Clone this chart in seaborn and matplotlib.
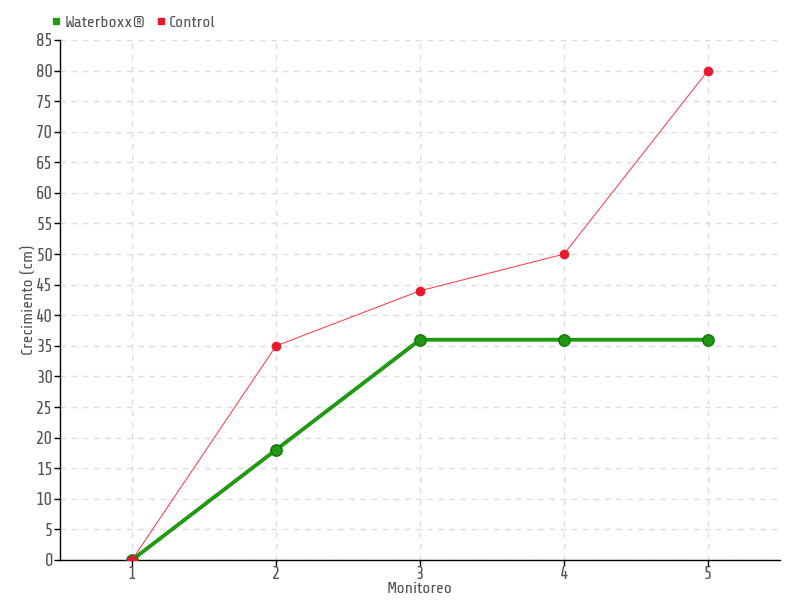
import matplotlib
matplotlib.use("Agg")
import matplotlib.pyplot as plt
import seaborn as sns
import pandas as pd
from matplotlib.lines import Line2D
from matplotlib import font_manager as fm

monitoreo = [1, 2, 3, 4, 5]
waterboxx = [0, 18, 36, 36, 36]
control = [0, 35, 44, 50, 80]
y_ticks = list(range(0, 90, 5))

sns.set_theme(style="white")
installed = {f.name for f in fm.fontManager.ttflist}
prefs = ['Share Tech', 'Ubuntu Condensed', 'Roboto Condensed', 'Liberation Sans Narrow', 'DejaVu Sans']
fams = [f for f in prefs if f in installed] or ['DejaVu Sans']
if 'DejaVu Sans' not in fams:
    fams.append('DejaVu Sans')
plt.rcParams['font.family'] = fams
txt = '#555555'

df = pd.DataFrame({
    'Monitoreo': monitoreo * 2,
    'Crecimiento': waterboxx + control,
    'Serie': ['Waterboxx®'] * 5 + ['Control'] * 5,
})

fig = plt.figure(figsize=(8, 6), dpi=100)
ax = fig.add_axes([0.075, 0.0667, 0.9, 0.8667])

green = '#1f9a12'
red = '#e8192c'
sns.lineplot(data=df[df.Serie == 'Waterboxx®'], x='Monitoreo', y='Crecimiento', ax=ax,
             color=green, linewidth=2.8, marker='o', markersize=8,
             markerfacecolor='#1f9a12', markeredgecolor='#177a0e', markeredgewidth=1.2,
             legend=False, zorder=3)
sns.lineplot(data=df[df.Serie == 'Control'], x='Monitoreo', y='Crecimiento', ax=ax,
             color='#f5404f', linewidth=0.75, marker='o', markersize=6.5,
             markerfacecolor=red, markeredgecolor=red, markeredgewidth=0.5,
             legend=False, zorder=4)

ax.set_xlim(0.5, 5.5)
ax.set_ylim(0, 85)
ax.set_xticks(monitoreo)
ax.set_yticks(y_ticks)
ax.grid(True, color='#dddddd', linestyle=(0, (4, 4)), linewidth=1)
ax.set_axisbelow(True)
for s in ['top', 'right']:
    ax.spines[s].set_visible(False)
for s in ['left', 'bottom']:
    ax.spines[s].set_color('black')
    ax.spines[s].set_linewidth(1)
ax.tick_params(axis='y', labelcolor=txt, labelsize=13, length=4, width=1, direction='out',
               left=True, pad=1, color='black')
ax.tick_params(axis='x', labelcolor=txt, labelsize=13, length=4, width=1, direction='out',
               bottom=True, pad=0, color='black')
ax.set_xlabel('Monitoreo', color=txt, fontsize=12, labelpad=0)
ax.set_ylabel('Crecimiento (cm)', color=txt, fontsize=12)
ax.yaxis.set_label_coords(-0.033, 0.5)

handles = [Line2D([], [], marker='s', linestyle='', color=green, markersize=5),
           Line2D([], [], marker='s', linestyle='', color=red, markersize=5)]
fig.legend(handles, ['Waterboxx®', 'Control'], loc='center left', bbox_to_anchor=(0.045, 0.963),
           ncol=2, frameon=False, fontsize=12, handlelength=0.6, handletextpad=0.2,
           columnspacing=0.6, labelcolor=txt)

fig.savefig('out.png', dpi=100)
